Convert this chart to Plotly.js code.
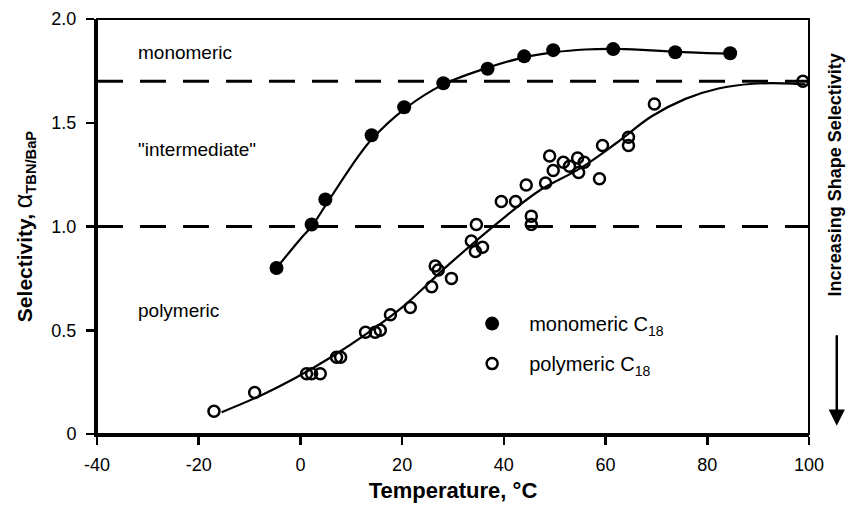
<!DOCTYPE html>
<html>
<head>
<meta charset="utf-8">
<script src="https://cdn.plot.ly/plotly-3.0.1.min.js"></script>
<style>html,body{margin:0;padding:0;background:#fff;}#chart{width:848px;height:508px;}</style>
</head>
<body>
<div id="chart"></div>
<script>
// Monomeric C18 data (filled circles)
var monoX = [-4.7, 2.2, 4.9, 14.0, 20.4, 28.1, 36.8, 44.0, 49.7, 61.5, 73.7, 84.5];
var monoY = [0.80, 1.01, 1.13, 1.44, 1.575, 1.69, 1.76, 1.82, 1.85, 1.855, 1.84, 1.835];
// Monomeric fitted curve
var monoCurveX = [-4.7, 0, 2.2, 4.9, 10, 14.0, 20.4, 28.1, 36.8, 44.0, 50, 56, 61.5, 68, 73.7, 80, 84.5];
var monoCurveY = [0.80, 0.94, 1.00, 1.10, 1.29, 1.42, 1.565, 1.685, 1.765, 1.815, 1.84, 1.853, 1.856, 1.85, 1.842, 1.836, 1.833];
// Polymeric C18 data (open circles)
var polyX = [-17, -9, 1.2, 2.2, 3.9, 7.1, 7.9, 12.8, 14.7, 15.7, 17.7, 21.6, 25.8, 26.5, 27.1, 29.7, 33.6, 34.4, 35.8, 34.6, 39.5, 42.3, 44.4, 45.4, 45.4, 48.2, 49.0, 49.7, 51.7, 52.9, 54.5, 55.8, 54.7, 58.8, 59.4, 64.5, 64.5, 69.6, 98.8];
var polyY = [0.11, 0.20, 0.29, 0.29, 0.29, 0.37, 0.37, 0.49, 0.49, 0.50, 0.575, 0.61, 0.71, 0.81, 0.79, 0.75, 0.93, 0.88, 0.90, 1.01, 1.12, 1.12, 1.20, 1.05, 1.01, 1.21, 1.34, 1.27, 1.31, 1.29, 1.33, 1.31, 1.26, 1.23, 1.39, 1.43, 1.39, 1.59, 1.70];
// Polymeric fitted curve
var polyCurveX = [-15.5, -8.3, -1, 6, 13.4, 20, 29.1, 38.9, 46.8, 55, 62, 69, 75.7, 82.2, 89, 95, 99.3];
var polyCurveY = [0.105, 0.18, 0.27, 0.37, 0.49, 0.61, 0.815, 1.02, 1.17, 1.28, 1.40, 1.53, 1.615, 1.665, 1.688, 1.69, 1.685];
// Region boundaries
var levels = [1.0, 1.7];
// Ticks
var xTickVals = [-40, -20, 0, 20, 40, 60, 80, 100];
var xTickText = ['-40', '-20', '0', '20', '40', '60', '80', '100'];
var yTickVals = [0, 0.5, 1.0, 1.5, 2.0];
var yTickText = ['0', '0.5', '1.0', '1.5', '2.0'];
// Region labels
var regionText = ['monomeric', '"intermediate"', 'polymeric'];
var regionY = [1.84, 1.37, 0.594];
var regionX = -32.3;

var FONT = 'Arial, "Liberation Sans", sans-serif';

var traces = [
  {x: monoCurveX, y: monoCurveY, mode: 'lines', line: {color: '#000', width: 2.2, shape: 'spline', smoothing: 0.9}, showlegend: false, hoverinfo: 'skip'},
  {x: polyCurveX, y: polyCurveY, mode: 'lines', line: {color: '#000', width: 2.2, shape: 'spline', smoothing: 1}, showlegend: false, hoverinfo: 'skip'},
  {x: monoX, y: monoY, mode: 'markers', name: 'monomeric C<sub>18</sub>', legendgroup: 'a',
   marker: {symbol: 'circle', size: 14, color: '#000'}},
  {x: polyX, y: polyY, mode: 'markers', name: 'polymeric C<sub>18</sub>', legendgroup: 'b',
   marker: {symbol: 'circle-open', size: 11, color: '#000', line: {width: 2.5, color: '#000'}}}
];

var shapes = levels.map(function (v) {
  return {type: 'line', xref: 'paper', x0: 0, x1: 1, yref: 'y', y0: v, y1: v,
          line: {color: '#000', width: 3, dash: '26px,17px'}};
});
shapes.push({type: 'rect', xref: 'paper', yref: 'paper', x0: 0, x1: 1, y0: 0, y1: 1,
             line: {color: '#000', width: 2}, layer: 'above'});

var annotations = regionText.map(function (t, i) {
  return {x: regionX, y: regionY[i], xref: 'x', yref: 'y', text: t, showarrow: false,
          xanchor: 'left', yanchor: 'middle', font: {family: FONT, size: 19, color: '#000'}};
});
annotations.push({xref: 'paper', yref: 'paper', x: 1.037, y: 0.624, text: '<b>Increasing Shape Selectivity</b>',
  textangle: -90, showarrow: false, xanchor: 'center', yanchor: 'middle', font: {family: FONT, size: 18, color: '#000'}});
annotations.push({xref: 'paper', yref: 'paper', x: 1.039, y: 0.02, text: '', showarrow: true,
  ax: 0, ay: -92, arrowhead: 2, arrowsize: 1.3, arrowwidth: 2.5, arrowcolor: '#000'});

var layout = {
  width: 848, height: 508,
  margin: {l: 97, r: 39, t: 19, b: 74, pad: 0},
  paper_bgcolor: '#fff', plot_bgcolor: '#fff',
  font: {family: FONT, color: '#000', size: 18},
  showlegend: true,
  legend: {x: 0.503, y: 0.313, xanchor: 'left', yanchor: 'top', bgcolor: 'rgba(0,0,0,0)', borderwidth: 0,
           font: {family: FONT, size: 20, color: '#000'}, itemwidth: 64, tracegroupgap: 11, traceorder: 'grouped'},
  xaxis: {range: [-40, 100], tickmode: 'array', tickvals: xTickVals, ticktext: xTickText,
          showgrid: false, zeroline: false, showline: true, linewidth: 3, linecolor: '#000',
          ticks: 'outside', ticklen: 8, tickwidth: 2.5, tickcolor: '#000', ticklabelstandoff: 4,
          tickfont: {family: FONT, size: 18},
          title: {text: '<b>Temperature, °C</b>', font: {family: FONT, size: 22}, standoff: 10}},
  yaxis: {range: [0, 2], tickmode: 'array', tickvals: yTickVals, ticktext: yTickText,
          showgrid: false, zeroline: false, showline: true, linewidth: 3, linecolor: '#000',
          ticks: 'outside', ticklen: 8, tickwidth: 2.5, tickcolor: '#000', ticklabelstandoff: 6,
          tickfont: {family: FONT, size: 18},
          title: {text: '<b>Selectivity, </b><span style="font-size:25px">α</span><sub><b>TBN/BaP</b></sub>', font: {family: FONT, size: 21}, standoff: 14}},
  shapes: shapes,
  annotations: annotations
};

Plotly.newPlot('chart', traces, layout, {displayModeBar: false, staticPlot: true});
</script>
</body>
</html>
